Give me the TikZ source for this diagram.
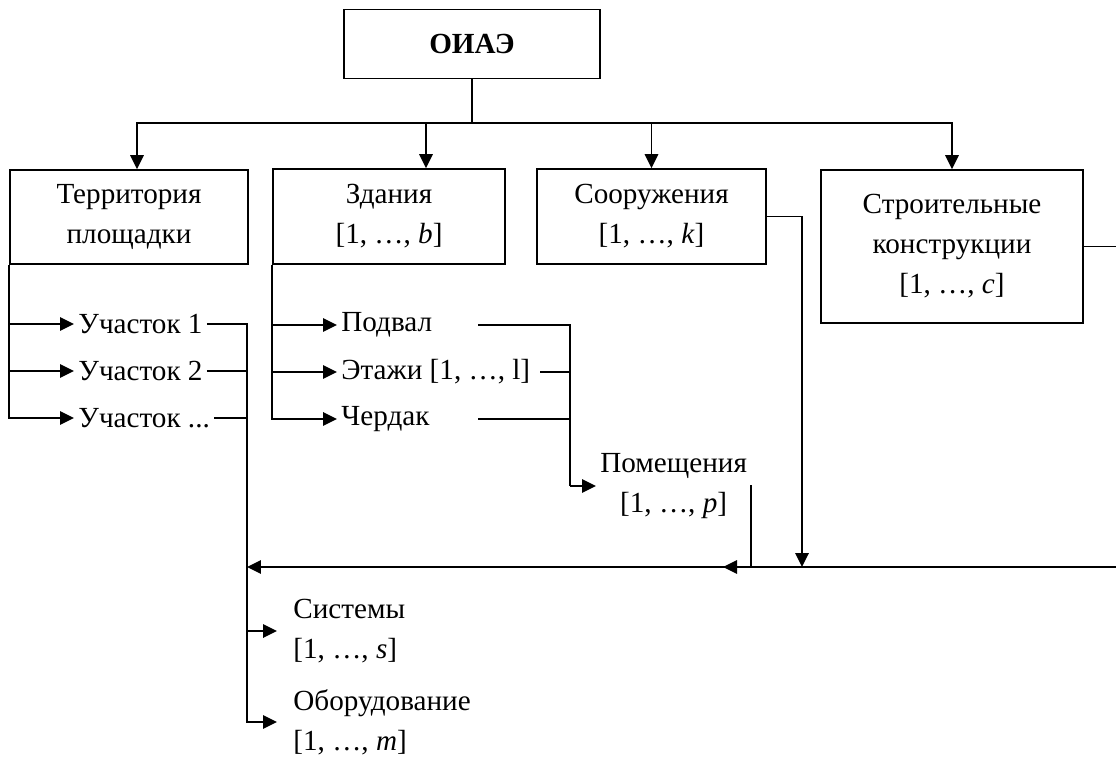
\documentclass[tikz,border=0pt]{standalone}
\usepackage{fontspec}
\setmainfont{Liberation Serif}
\usetikzlibrary{positioning}
\usetikzlibrary{arrows.meta}
\newcommand{\fsz}{\fontsize{16.6}{22.8}\selectfont}
\newcommand{\rng}[1]{[1, …, \textit{#1}]}
\tikzset{
  blk/.style={draw, line width=1pt, align=center, inner sep=2pt, font=\fsz},
  lbl/.style={inner sep=2pt, font=\fsz},
  arr/.style={-{Triangle[length=0.28cm,width=0.27cm]}},
}

\begin{document}
\begin{tikzpicture}[x=0.02cm, y=-0.02cm, line width=1pt]
      \useasboundingbox (0,0) rectangle (1116,758);

      \node[blk, minimum width=5.12cm, minimum height=1.38cm, font=\fsz\bfseries] (oiae) at (472,44) {ОИАЭ};
      \node[blk, minimum width=4.76cm, minimum height=1.88cm] (terr) at (129,217) {Территория\\площадки};
      \node[blk, minimum width=4.64cm, minimum height=1.9cm] (zdan) at (389,216.5) {Здания\\\rng{b}};
      \node[blk, minimum width=4.58cm, minimum height=1.9cm] (soor) at (651.5,216.5) {Сооружения\\\rng{k}};
      \node[blk, minimum width=5.24cm, minimum height=3.06cm] (stroi) at (952,246.5) {Строительные\\конструкции\\\rng{c}};

      \node[lbl, anchor=west] (uch1) at (74,324) {Участок 1};
      \node[lbl, below=0.94cm of uch1.west, anchor=west] (uch2) {Участок 2};
      \node[lbl, below=0.94cm of uch2.west, anchor=west] (uch3) {Участок ...};

      \node[lbl, anchor=west] (podv) at (337,325) {Подвал};
      \node[lbl, below=0.94cm of podv.west, anchor=west] (etaz) {Этажи [1, …, l]};
      \node[lbl, below=0.94cm of etaz.west, anchor=west] (cherd) {Чердак};

      \node[lbl, align=center, anchor=west] (pom) at (596,486) {Помещения\\\rng{p}};
      \node[lbl, align=left, anchor=west] (sys) at (289,631) {Системы\\\rng{s}};
      \node[lbl, align=left, below=1.82cm of sys.west, anchor=west] (obor) {Оборудование\\\rng{m}};

      \coordinate (bus) at (472,123);
      \coordinate (trunk) at (247,567);
      \coordinate (jz) at (570,486);
      \coordinate (pj) at (751,567);
      \coordinate (sj) at (802,567);
      \coordinate (rj) at (1118,567);

      \draw (oiae.south) -- (bus);
      \foreach \n/\s in {terr/0.16cm, zdan/0.74cm, soor/0cm, stroi/0cm}
         \draw[arr] (bus) -| ([xshift=\s]\n.north);

      \foreach \n in {uch1,uch2,uch3} {
         \draw[arr] (terr.south west) |- (\n.west);
         \draw (\n.east) -| (trunk);
      }
      \foreach \n in {podv,etaz,cherd}
         \draw[arr] (zdan.south west) |- (\n.west);

      \draw (podv.east -| 478,0) -| (jz);
      \draw (etaz.east -| 540,0) -| (jz);
      \draw (cherd.east -| 478,0) -| (jz);
      \draw[arr] (jz) -- (pom.west);

      \draw[arr] (pom.east) -| (pj) -- ++(-28,0);
      \draw[arr] (soor.east) -| (sj);
      \draw[arr] (stroi.east) -| (rj) -- (trunk);
      \draw[arr, shorten >=0.24cm] (trunk) |- (sys.west);
      \draw[arr, shorten >=0.24cm] (trunk) |- (obor.west);
\end{tikzpicture}
\end{document}
